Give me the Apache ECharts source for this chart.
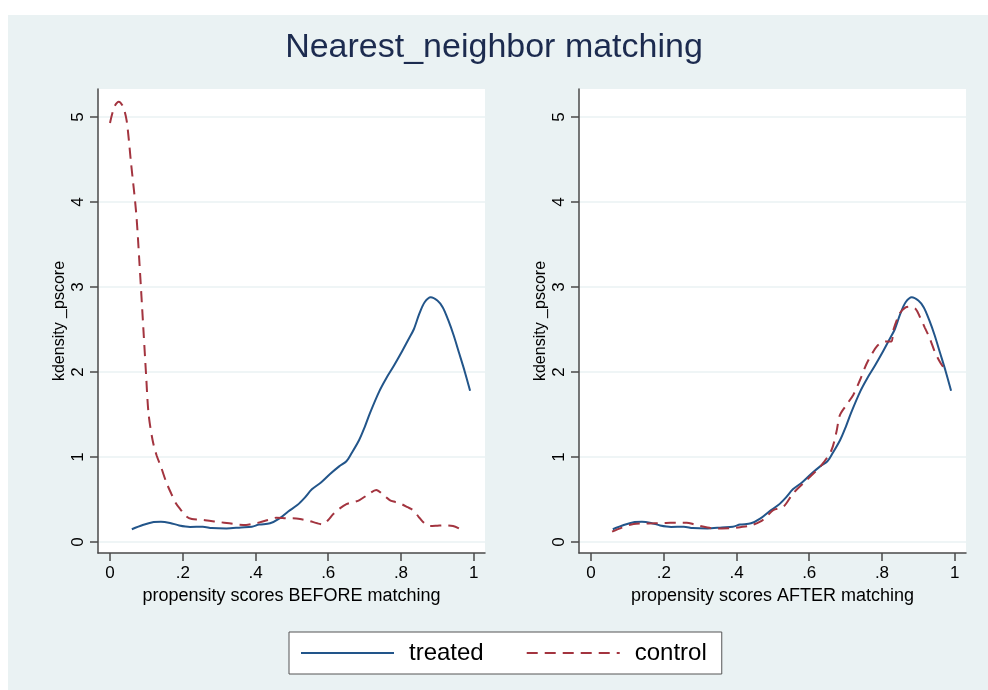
<!DOCTYPE html>
<html><head><meta charset="utf-8">
<script src="https://cdn.jsdelivr.net/npm/echarts@6/dist/echarts.min.js"></script>
<style>
html,body{margin:0;padding:0;background:#fff;}
#wrap{position:relative;width:988px;height:690px;}
#bg{position:absolute;left:8px;top:15px;right:0;bottom:0;background:#eaf2f3;}
#c{position:absolute;left:0;top:0;width:988px;height:690px;}
</style>
</head><body>
<div id="wrap"><div id="bg"></div><div id="c"></div></div>
<script>
const titleText = 'Nearest_neighbor matching';
const seriesNames = ['treated', 'control'];
const xTicks = [0, 0.2, 0.4, 0.6, 0.8, 1];
const yTicks = [0, 1, 2, 3, 4, 5];
const xAxisTitles = ['propensity scores BEFORE matching', 'propensity scores AFTER matching'];
const yAxisTitle = 'kdensity _pscore';

// treated group density (identical in both panels)
const treated = [[0.06,0.15],[0.09,0.2],[0.12,0.235],[0.14,0.24],[0.165,0.225],[0.19,0.195],[0.22,0.178],[0.255,0.18],[0.28,0.165],[0.32,0.16],[0.36,0.172],[0.39,0.18],[0.41,0.205],[0.44,0.22],[0.465,0.275],[0.49,0.36],[0.515,0.435],[0.535,0.52],[0.555,0.62],[0.58,0.7],[0.605,0.8],[0.63,0.89],[0.65,0.95],[0.665,1.05],[0.685,1.2],[0.7,1.35],[0.715,1.52],[0.74,1.77],[0.76,1.93],[0.78,2.07],[0.8,2.22],[0.82,2.38],[0.835,2.5],[0.85,2.68],[0.865,2.82],[0.882,2.88],[0.9,2.84],[0.915,2.76],[0.93,2.61],[0.945,2.43],[0.96,2.22],[0.975,2.01],[0.99,1.78]];

// control group density before matching
const controlBefore = [[0.0,4.93],[0.012,5.12],[0.024,5.18],[0.036,5.12],[0.046,4.95],[0.058,4.45],[0.072,3.87],[0.081,3.28],[0.092,2.49],[0.099,1.98],[0.106,1.51],[0.117,1.2],[0.128,1.02],[0.14,0.886],[0.155,0.7],[0.168,0.573],[0.182,0.45],[0.195,0.376],[0.21,0.3],[0.225,0.27],[0.25,0.262],[0.273,0.25],[0.3,0.235],[0.328,0.22],[0.355,0.205],[0.374,0.2],[0.393,0.215],[0.411,0.231],[0.435,0.26],[0.457,0.286],[0.485,0.28],[0.512,0.278],[0.53,0.265],[0.549,0.247],[0.57,0.22],[0.585,0.208],[0.6,0.26],[0.613,0.325],[0.63,0.39],[0.65,0.447],[0.67,0.47],[0.686,0.494],[0.71,0.56],[0.732,0.612],[0.75,0.56],[0.769,0.494],[0.785,0.47],[0.801,0.447],[0.818,0.41],[0.833,0.376],[0.848,0.3],[0.86,0.239],[0.879,0.188],[0.9,0.192],[0.915,0.196],[0.943,0.188],[0.963,0.153]];

// control group density after matching
const controlAfter = [[0.058,0.122],[0.085,0.17],[0.117,0.212],[0.145,0.218],[0.172,0.22],[0.195,0.222],[0.218,0.227],[0.24,0.228],[0.263,0.227],[0.282,0.21],[0.3,0.188],[0.32,0.17],[0.337,0.161],[0.36,0.16],[0.382,0.161],[0.41,0.175],[0.437,0.192],[0.465,0.239],[0.483,0.3],[0.501,0.376],[0.529,0.416],[0.556,0.573],[0.593,0.729],[0.634,0.906],[0.661,1.08],[0.675,1.3],[0.684,1.49],[0.7,1.6],[0.721,1.73],[0.739,1.9],[0.758,2.1],[0.776,2.24],[0.79,2.32],[0.81,2.36],[0.826,2.36],[0.831,2.49],[0.849,2.69],[0.865,2.76],[0.878,2.77],[0.893,2.74],[0.904,2.65],[0.918,2.52],[0.931,2.4],[0.945,2.24],[0.959,2.12],[0.968,2.06]];

const FONT = '"Liberation Sans", Arial, Helvetica, sans-serif';
const AXIS_COLOR = '#4a4a4a';
const TREATED_COLOR = '#22558a';
const CONTROL_COLOR = '#a3343f';
const GRID_LINE = '#eaf2f3';

function xFmt(v) {
  const r = Math.round(v * 10) / 10;
  if (r === 0) return '0';
  if (r === 1) return '1';
  return String(r).replace(/^0/, '');
}

const panels = [
  { left: 98, control: controlBefore },
  { left: 579, control: controlAfter }
];

const grid = panels.map(p => ({
  left: p.left, top: 89, width: 387, height: 464,
  show: true, backgroundColor: '#ffffff', borderWidth: 0
}));

const xAxis = panels.map((p, i) => ({
  type: 'value', gridIndex: i, min: -0.033, max: 1.031,
  axisLine: { show: true, onZero: false, lineStyle: { color: AXIS_COLOR, width: 1.5 } },
  axisTick: { show: true, length: 8, customValues: xTicks, lineStyle: { color: AXIS_COLOR, width: 1.5 } },
  axisLabel: { customValues: xTicks, formatter: xFmt, margin: 12, color: '#000', fontSize: 17, fontFamily: FONT },
  splitLine: { show: false },
  name: xAxisTitles[i], nameLocation: 'middle', nameGap: 29,
  nameTextStyle: { fontSize: 18, color: '#000', fontFamily: FONT }
}));

const yAxis = panels.map((p, i) => ({
  type: 'value', gridIndex: i, min: -0.129, max: 5.329,
  axisLine: { show: true, onZero: false, lineStyle: { color: AXIS_COLOR, width: 1.5 } },
  axisTick: { show: true, length: 8, customValues: yTicks, lineStyle: { color: AXIS_COLOR, width: 1.5 } },
  axisLabel: { customValues: yTicks, rotate: 90, margin: 11, color: '#000', fontSize: 17, fontFamily: FONT },
  splitLine: { show: true, lineStyle: { color: GRID_LINE, width: 1.5 } },
  name: yAxisTitle, nameLocation: 'middle', nameGap: 30, nameRotate: 90,
  nameTextStyle: { fontSize: 16, color: '#000', fontFamily: FONT }
}));

const series = [];
panels.forEach((p, i) => {
  series.push({
    name: seriesNames[0], type: 'line', xAxisIndex: i, yAxisIndex: i,
    data: treated, symbol: 'none', smooth: 0.3, clip: false,
    lineStyle: { color: TREATED_COLOR, width: 2 }, itemStyle: { color: TREATED_COLOR }
  });
  series.push({
    name: seriesNames[1], type: 'line', xAxisIndex: i, yAxisIndex: i,
    data: p.control, symbol: 'none', smooth: 0.3, clip: false,
    lineStyle: { color: CONTROL_COLOR, width: 2, type: [11, 7] }, itemStyle: { color: CONTROL_COLOR }
  });
});

const chart = echarts.init(document.getElementById('c'), null, { renderer: 'canvas' });
chart.setOption({
  animation: false,
  backgroundColor: 'transparent',
  title: {
    text: titleText, left: 'center', top: 31, padding: [0, 0, 0, 7],
    textStyle: { fontSize: 34, fontWeight: 'normal', color: '#1c2b4f', fontFamily: FONT }
  },
  legend: {
    data: seriesNames, left: 289, top: 632, orient: 'horizontal',
    itemWidth: 93, itemHeight: 14, itemGap: 42,
    padding: [9, 15, 9, 11], backgroundColor: '#ffffff',
    borderColor: '#555555', borderWidth: 1, borderRadius: 0,
    selectedMode: false,
    itemStyle: { opacity: 0 },
    textStyle: { fontSize: 24, color: '#000', fontFamily: FONT, padding: [0, 0, 0, 10] }
  },
  grid: grid,
  xAxis: xAxis,
  yAxis: yAxis,
  series: series
});
</script>
</body></html>
